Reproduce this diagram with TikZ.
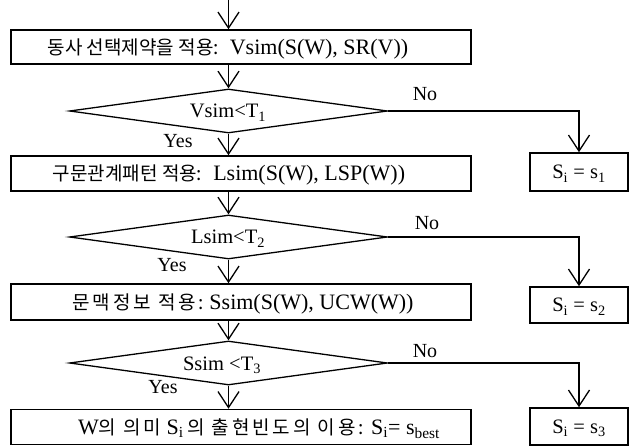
\documentclass[tikz,border=0pt]{standalone}
\usepackage{fontspec}
\setmainfont{Liberation Serif}
\newfontfamily\kr{Noto Sans CJK KR}
\newfontfamily\krw[LetterSpace=15]{Noto Sans CJK KR}
\usetikzlibrary{shapes.geometric,arrows.meta}
\begin{document}
\begin{tikzpicture}[x=1pt,y=-1pt,
  txt/.style={inner sep=0pt, font=\fontsize{22}{26}\selectfont},
  dtxt/.style={inner sep=0pt, font=\fontsize{20.5}{24}\selectfont},
  box/.style={draw, line width=1.5pt, inner sep=0pt},
  dia/.style={draw, diamond, line width=1.3pt, inner sep=0pt, shape aspect=7.2,
              minimum width=318pt, minimum height=44pt},
  arr/.style={line width=1.3pt, -{Straight Barb[length=16pt,width=21pt]}},
  lbl/.style={inner sep=0pt, font=\fontsize{20}{24}\selectfont}
]
\useasboundingbox (0,0) rectangle (629,446);
\newcommand{\K}[1]{{\kr\fontsize{19}{22}\selectfont #1}}
\newcommand{\KW}[1]{{\krw\fontsize{19}{22}\selectfont #1}}

% left boxes
\node[box, minimum width=460pt, minimum height=34pt] (b1) at (241,47) {};
\node[box, minimum width=460pt, minimum height=35pt] (b2) at (241,173.5) {};
\node[box, minimum width=460pt, minimum height=36pt] (b3) at (241,302) {};
\node[box, minimum width=460pt, minimum height=35pt] (b4) at (241,427) {};

\node[txt, anchor=base] (t1) at (228,54.5) {\K{동사 선택제약을 적용:}\ \ Vsim(S(W), SR(V))};
\node[txt, anchor=base] (t2) at (229,181) {\K{구문관계패턴 적용:}\ \ Lsim(S(W), LSP(W))};
\node[txt, anchor=base] (t3) at (243,309.5) {\KW{문맥정보 적용:}\ Ssim(S(W), UCW(W))};
\node[txt, anchor=base] (t4) at (259,434.5) {W\KW{의 의미} S\textsubscript{i}\,\KW{의 출현빈도의 이용:} S\textsubscript{i}= s\textsubscript{best}};

% diamonds
\node[dia] (d1) at (228.5,111) {};
\node[dia] (d2) at (228.5,237) {};
\node[dia] (d3) at (228.5,363) {};
\node[dtxt, anchor=base] (dt1) at (228,118) {Vsim<T\textsubscript{1}};
\node[dtxt, anchor=base] (dt2) at (228,244) {Lsim<T\textsubscript{2}};
\node[dtxt, anchor=base] (dt3) at (222,370) {Ssim <T\textsubscript{3}};

% right boxes
\node[box, minimum width=98pt, minimum height=38pt] (r1) at (579,172) {};
\node[box, minimum width=98pt, minimum height=36pt] (r2) at (579,305) {};
\node[box, minimum width=98pt, minimum height=37pt] (r3) at (579,426.5) {};
\node[dtxt, anchor=base] (rt1) at (579,179) {S\textsubscript{i} = s\textsubscript{1}};
\node[dtxt, anchor=base] (rt2) at (579,312) {S\textsubscript{i} = s\textsubscript{2}};
\node[dtxt, anchor=base] (rt3) at (579,433) {S\textsubscript{i} = s\textsubscript{3}};

% labels
\node[lbl] (y1) at (178,141) {Yes};
\node[lbl] (y2) at (172,265) {Yes};
\node[lbl] (y3) at (163,387) {Yes};
\node[lbl] (n1) at (425,94) {No};
\node[lbl] (n2) at (427,223) {No};
\node[lbl] (n3) at (425,351) {No};

% connectors
\coordinate (top) at (228.5,0);
\draw[arr] (top) -- (top |- b1.north);
\draw[arr] (b1.south -| d1.north) -- (d1.north);
\draw[arr] (d1.south) -- (d1.south |- b2.north);
\draw[arr] (b2.south -| d2.north) -- (d2.north);
\draw[arr] (d2.south) -- (d2.south |- b3.north);
\draw[arr] (b3.south -| d3.north) -- (d3.north);
\draw[arr] (d3.south) -- (d3.south |- b4.north);

\draw[arr] (d1.east) -- (d1.east -| r1.north) -- (r1.north);
\draw[arr] (d2.east) -- (d2.east -| r2.north) -- (r2.north);
\draw[arr] (d3.east) -- (d3.east -| r3.north) -- (r3.north);
\end{tikzpicture}
\end{document}
